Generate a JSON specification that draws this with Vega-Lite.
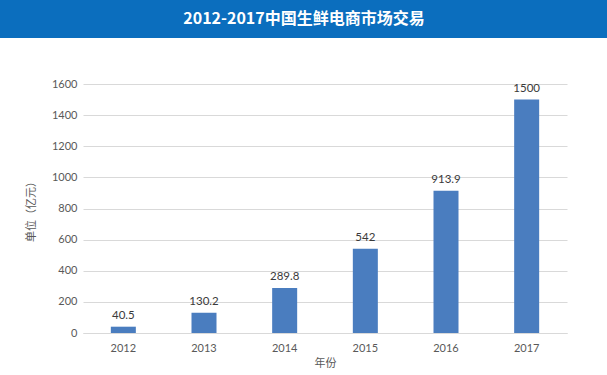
{
  "$schema": "https://vega.github.io/schema/vega-lite/v6.json",
  "padding": {"left": 0, "top": 0, "bottom": 0, "right": -43},
  "background": "white",
  "spacing": 40,
  "center": true,
  "config": {
    "font": "Lato, Noto Sans CJK SC",
    "view": {"stroke": null}
  },
  "vconcat": [
    {
      "width": 650,
      "height": 38,
      "view": {"fill": "#0b6ebe", "stroke": null},
      "data": {"values": [{"t": "2012-2017中国生鲜电商市场交易"}]},
      "mark": {"type": "text", "color": "white", "fontSize": 16, "fontWeight": "bold", "font": "Noto Sans CJK SC", "baseline": "middle", "align": "center", "dx": -21},
      "encoding": {"text": {"field": "t", "type": "nominal"}}
    },
    {
      "width": 484,
      "height": 249,
      "data": {
        "values": [
          {"year": "2012", "value": 40.5},
          {"year": "2013", "value": 130.2},
          {"year": "2014", "value": 289.8},
          {"year": "2015", "value": 542},
          {"year": "2016", "value": 913.9},
          {"year": "2017", "value": 1500}
        ]
      },
      "encoding": {
        "x": {
          "field": "year",
          "type": "ordinal",
          "title": "年份",
          "scale": {"paddingInner": 0.69, "paddingOuter": 0.345},
          "axis": {
            "labelAngle": 0,
            "ticks": false,
            "domainColor": "#d9d9d9",
            "labelColor": "#595959",
            "labelFontSize": 11,
            "labelPadding": 9,
            "titleColor": "#595959",
            "titleFontSize": 11,
            "titleFontWeight": "normal",
            "titleFont": "Noto Sans CJK SC",
            "titlePadding": 4
          }
        },
        "y": {
          "field": "value",
          "type": "quantitative",
          "title": "单位（亿元）",
          "scale": {"domain": [0, 1600]},
          "axis": {
            "values": [0, 200, 400, 600, 800, 1000, 1200, 1400, 1600],
            "format": "d",
            "domain": false,
            "ticks": false,
            "gridColor": "#d9d9d9",
            "labelColor": "#595959",
            "labelFontSize": 11,
            "labelPadding": 6,
            "titleColor": "#595959",
            "titleFontSize": 11,
            "titleFontWeight": "normal",
            "titleFont": "Noto Sans CJK SC",
            "titlePadding": 15
          }
        }
      },
      "layer": [
        {"mark": {"type": "bar", "color": "#4a7dbf"}},
        {
          "mark": {"type": "text", "baseline": "bottom", "dy": -6, "fontSize": 11.5, "color": "#3a3a3a"},
          "encoding": {"text": {"field": "value", "type": "quantitative"}}
        }
      ]
    }
  ]
}
